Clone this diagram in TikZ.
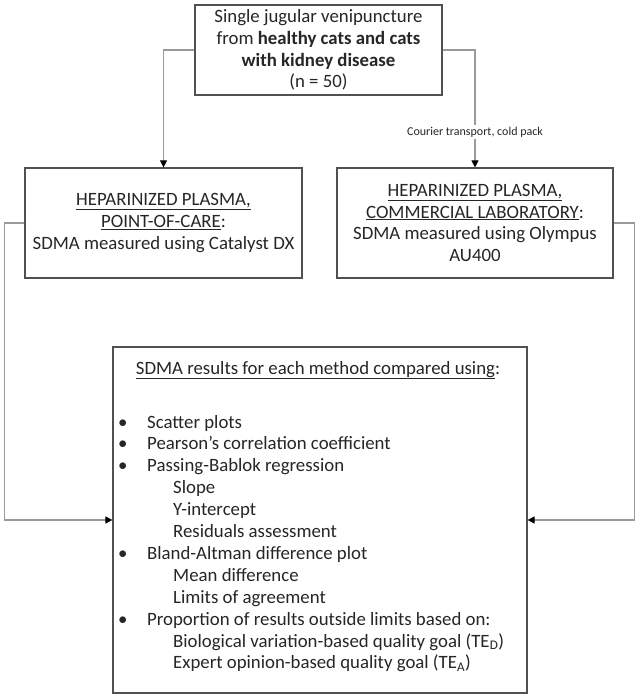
\documentclass[tikz,border=0pt]{standalone}
\usepackage{fontspec}
\setmainfont{Carlito}
\usetikzlibrary{arrows.meta}
\definecolor{txt}{HTML}{262626}
\definecolor{edge}{HTML}{505050}
\definecolor{conn}{HTML}{9A9A9A}
\begin{document}
\begin{tikzpicture}[x=1pt,y=-1pt,
  box/.style={draw=edge, line width=1.2pt, inner sep=0pt, align=center, text=txt,
    font=\fontsize{18.8}{21.8}\selectfont},
  connector/.style={draw=conn, line width=1.1pt, -{Triangle[length=7pt,width=7pt,color=black]}},
  item/.style={anchor=base west, inner sep=0pt, text=txt, font=\fontsize{18.8}{21}\selectfont},
  note/.style={fill=white, inner sep=2pt, text=txt, font=\fontsize{12}{14}\selectfont}]
\useasboundingbox (0,0) rectangle (639,698);
\fill[white] (0,0) rectangle (639,698);

\node[box, minimum width=247pt, minimum height=90pt] (top) at (318.5,50)
  {Single jugular venipuncture\\ from \textbf{healthy cats and cats}\\ \textbf{with kidney disease}\\ (n = 50)};

\node[box, minimum width=277pt, minimum height=110pt] (lbox) at (163.5,223)
  {\underline{HEPARINIZED PLASMA,}\\ \underline{POINT-OF-CARE}:\\ SDMA measured using Catalyst DX};

\node[box, minimum width=276pt, minimum height=110pt] (rbox) at (475,223)
  {\underline{HEPARINIZED PLASMA,}\\ \underline{COMMERCIAL LABORATORY}:\\ SDMA measured using Olympus\\ AU400};

\node[box, minimum width=414pt, minimum height=346pt] (bbox) at (320,520) {};

\node[item, anchor=base] (head) at (318,374) {\underline{SDMA results for each method compared using}:};

\node[item] (i1) at (118,428) {\makebox[29pt][l]{•}Scatter plots};
\node[item] (i2) at (118,449.9) {\makebox[29pt][l]{•}Pearson’s correlation coefficient};
\node[item] (i3) at (118,471.8) {\makebox[29pt][l]{•}Passing-Bablok regression};
\node[item] (i4) at (173,493.7) {Slope};
\node[item] (i5) at (173,515.6) {Y-intercept};
\node[item] (i6) at (173,537.5) {Residuals assessment};
\node[item] (i7) at (118,559.4) {\makebox[29pt][l]{•}Bland-Altman difference plot};
\node[item] (i8) at (173,581.3) {Mean difference};
\node[item] (i9) at (173,603.2) {Limits of agreement};
\node[item] (i10) at (118,625.1) {\makebox[29pt][l]{•}Proportion of results outside limits based on:};
\node[item] (i11) at (173,647) {Biological variation-based quality goal (TE\textsubscript{D})};
\node[item] (i12) at (173,668.9) {Expert opinion-based quality goal (TE\textsubscript{A})};

\draw[connector] (top.west) -| (lbox.north);
\draw[connector] (top.east) -| (rbox.north);
\node[note] (courier) at (475,132) {Courier transport, cold pack};

\draw[connector] (lbox.west) -- ++(-20,0) |- (bbox.west);
\draw[connector] (rbox.east) -- ++(21,0) |- (bbox.east);
\end{tikzpicture}
\end{document}
